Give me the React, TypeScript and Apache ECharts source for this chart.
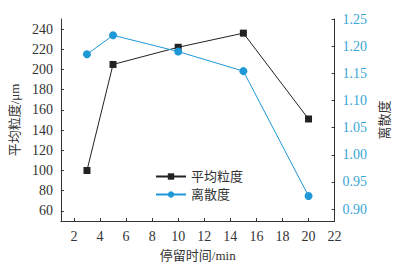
import React, { useEffect, useRef } from "react";
import * as echarts from "echarts";

const residenceTime = [3, 5, 10, 15, 20];
const meanSize = [100, 205, 222, 236, 151];
const dispersion = [1.185, 1.22, 1.19, 1.154, 0.924];
const xTicks = [2, 4, 6, 8, 10, 12, 14, 16, 18, 20, 22];
const leftTicks = [60, 80, 100, 120, 140, 160, 180, 200, 220, 240];
const rightTicks = [0.9, 0.95, 1.0, 1.05, 1.1, 1.15, 1.2, 1.25];

const DARK = "#333333";
const BLUE = "#1e98d6";
const BLUE_TEXT = "#3aa5d8";
const NUM_FONT = "'Liberation Serif', serif";
const CJK_FONT = "'Liberation Serif', 'Noto Sans CJK SC', serif";

export default function App() {
  const ref = useRef<HTMLDivElement>(null);
  useEffect(() => {
    if (!ref.current) return;
    const chart = echarts.init(ref.current, undefined, { renderer: "svg" });
    chart.setOption({
      animation: false,
      backgroundColor: "#ffffff",
      grid: { left: 60, right: 61, top: 19, bottom: 47 },
      legend: {
        orient: "vertical",
        left: 150,
        top: 165,
        itemWidth: 30,
        itemHeight: 8,
        itemGap: 5,
        textStyle: { color: DARK, fontSize: 13, fontFamily: CJK_FONT },
        data: ["平均粒度", "离散度"],
      },
      xAxis: {
        type: "value",
        min: 1,
        max: 22,
        name: "停留时间/min",
        nameLocation: "middle",
        nameGap: 28,
        nameTextStyle: { color: DARK, fontSize: 13, fontFamily: CJK_FONT },
        axisLine: { lineStyle: { color: DARK, width: 1 } },
        axisTick: { inside: true, length: 3, customValues: xTicks, lineStyle: { color: DARK } },
        axisLabel: { customValues: xTicks, color: DARK, fontSize: 14, margin: 8, fontFamily: NUM_FONT },
        splitLine: { show: false },
      },
      yAxis: [
        {
          type: "value",
          min: 50,
          max: 250,
          name: "平均粒度/μm",
          nameLocation: "middle",
          nameGap: 34,
          nameRotate: 90,
          nameTextStyle: { color: DARK, fontSize: 13, fontFamily: CJK_FONT },
          axisLine: { show: true, lineStyle: { color: DARK, width: 1 } },
          axisTick: { show: true, inside: true, length: 3, customValues: leftTicks, lineStyle: { color: DARK } },
          axisLabel: { customValues: leftTicks, color: DARK, fontSize: 14, margin: 8, fontFamily: NUM_FONT },
          splitLine: { show: false },
        },
        {
          type: "value",
          min: 0.878,
          max: 1.25,
          position: "right",
          name: "离散度",
          nameLocation: "middle",
          nameGap: 38,
          nameRotate: 90,
          nameTextStyle: { color: DARK, fontSize: 13, fontFamily: CJK_FONT },
          axisLine: { show: true, lineStyle: { color: DARK, width: 1 } },
          axisTick: { show: true, inside: true, length: 3, customValues: rightTicks, lineStyle: { color: DARK } },
          axisLabel: {
            customValues: rightTicks,
            color: BLUE_TEXT,
            fontSize: 14,
            margin: 8,
            fontFamily: NUM_FONT,
            formatter: (v: number) => v.toFixed(2),
          },
          splitLine: { show: false },
        },
      ],
      series: [
        {
          name: "平均粒度",
          type: "line",
          yAxisIndex: 0,
          data: residenceTime.map((x, i) => [x, meanSize[i]]),
          symbol: "rect",
          symbolSize: 7,
          itemStyle: { color: "#222222" },
          lineStyle: { color: "#222222", width: 1 },
        },
        {
          name: "离散度",
          type: "line",
          yAxisIndex: 1,
          data: residenceTime.map((x, i) => [x, dispersion[i]]),
          symbol: "circle",
          symbolSize: 8,
          itemStyle: { color: BLUE },
          lineStyle: { color: BLUE, width: 1 },
        },
      ],
    });
    return () => chart.dispose();
  }, []);
  return <div ref={ref} style={{ width: 399, height: 268, position: "absolute", left: 0, top: 0 }} />;
}
